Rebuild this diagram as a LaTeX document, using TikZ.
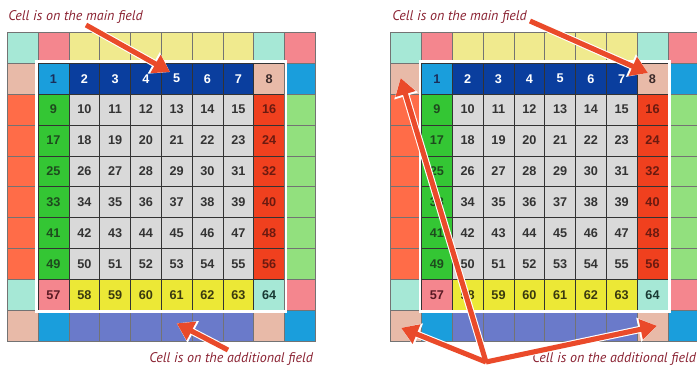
\documentclass[tikz,border=0pt]{standalone}
\usepackage{fontspec}
\setmainfont{PT Sans}
\newfontfamily\numfont{Liberation Sans}
\usetikzlibrary{arrows.meta,calc}

% field colours: in = main field, out = additional field
\definecolor{in00}{HTML}{1A9EDC}
\definecolor{in01}{HTML}{0A3E9E}
\definecolor{in02}{HTML}{E8BAA8}
\definecolor{in10}{HTML}{34C634}
\definecolor{in11}{HTML}{D9D9D9}
\definecolor{in12}{HTML}{F0401E}
\definecolor{in20}{HTML}{F4868E}
\definecolor{in21}{HTML}{ECE836}
\definecolor{in22}{HTML}{A6E8D6}
\definecolor{out00}{HTML}{1A9EDC}
\definecolor{out01}{HTML}{6A7ACA}
\definecolor{out02}{HTML}{E8BAA8}
\definecolor{out10}{HTML}{92E07E}
\definecolor{out11}{HTML}{D9D9D9}
\definecolor{out12}{HTML}{FF6C48}
\definecolor{out20}{HTML}{F4868E}
\definecolor{out21}{HTML}{F0EA8E}
\definecolor{out22}{HTML}{A6E8D6}
\definecolor{tx00}{HTML}{1A2E5A}
\definecolor{tx01}{HTML}{FFFFFF}
\definecolor{tx02}{HTML}{3A2A2A}
\definecolor{tx10}{HTML}{1E4A1E}
\definecolor{tx11}{HTML}{333333}
\definecolor{tx12}{HTML}{6A1A10}
\definecolor{tx20}{HTML}{5A1A24}
\definecolor{tx21}{HTML}{3A3A10}
\definecolor{tx22}{HTML}{1A3A34}
\definecolor{hotred}{HTML}{EA4A2A}
\definecolor{notered}{HTML}{8A2232}

\begin{document}
\begin{tikzpicture}[
  x=0.75pt,
  y=-0.75pt,
  font=\numfont\bfseries\fontsize{9.5}{11}\selectfont,
  cell/.style={minimum width=23.1pt,minimum height=23.175pt,inner sep=0pt,outer sep=0pt,line width=0.6pt},
  outcell/.style={cell,draw=black!55},
  incell/.style={cell,draw=black!80},
  frame/.style={draw=white,line width=2pt},
  note/.style={font=\normalfont\itshape\fontsize{10.5}{12}\selectfont,text=notered,anchor=base west,inner sep=0pt},
  halo/.style={draw=white,line width=5.4pt,-{Triangle[length=14pt,width=17.5pt]}},
  pointer/.style={draw=hotred,line width=3.8pt,-{Triangle[length=12.5pt,width=15pt]}}
]
\useasboundingbox (0,0) rectangle (697,369);
\clip (0,0) rectangle (697,369);

% Both boards: 8x8 main field with a ring of the additional field
\foreach \g/\gx in {L/7.3,R/390.7}{
  \foreach \r in {0,...,9}{
    \foreach \c in {0,...,9}{
      \pgfmathtruncatemacro\ri{mod(\r+7,8)}
      \pgfmathtruncatemacro\ci{mod(\c+7,8)}
      \pgfmathtruncatemacro\rk{\ri==0 ? 0 : (\ri==7 ? 2 : 1)}
      \pgfmathtruncatemacro\ck{\ci==0 ? 0 : (\ci==7 ? 2 : 1)}
      \pgfmathtruncatemacro\inside{(\r>0)*(\r<9)*(\c>0)*(\c<9)}
      \pgfmathtruncatemacro\num{8*\ri+\ci+1}
      \ifnum\inside=1
        \node[incell,fill=in\rk\ck,text=tx\rk\ck] (\g-\r-\c)
          at (\gx+15.4+30.8*\c,47.75+30.9*\r) {\num};
      \else
        \node[outcell,fill=out\rk\ck] (\g-\r-\c)
          at (\gx+15.4+30.8*\c,47.75+30.9*\r) {};
      \fi
    }
  }
  \draw[frame] ($(\g-1-1.north west)+(-1.4,-1.4)$) rectangle ($(\g-8-8.south east)+(1.4,1.4)$);
}

% Notes
\node[note] (mainL) at (8,20) {Cell is on the main field};
\node[note] (addL) at (149,362.5) {Cell is on the additional field};
\node[note] (mainR) at (392,20) {Cell is on the main field};
\node[note] (addR) at (532,362.5) {Cell is on the additional field};

% Arrow ends
\coordinate (mainL-tail) at (86,25);
\coordinate (mainL-tip) at ($(L-1-5)+(-6.7,-6.6)$);
\coordinate (addL-tail) at (228,350);
\coordinate (addL-tip) at ($(L-9-5)+(0,-2.5)$);
\coordinate (mainR-tail) at (530,21);
\coordinate (mainR-tip) at ($(R-1-8)+(-4.5,-5.6)$);
\coordinate (addR-hub) at (486,362);
\coordinate (addR-tipA) at ($(R-1-0)+(-5.4,-0.6)$);
\coordinate (addR-tipB) at ($(R-9-0)+(-5,2)$);
\coordinate (addR-tipC) at ($(R-9-8)+(4.5,0)$);

% Arrows, white halo first
\foreach \a/\b in {mainL-tail/mainL-tip,addL-tail/addL-tip,mainR-tail/mainR-tip,
                   addR-hub/addR-tipA,addR-hub/addR-tipB,addR-hub/addR-tipC}
  \draw[halo] (\a) -- (\b);
\foreach \a/\b in {mainL-tail/mainL-tip,addL-tail/addL-tip,mainR-tail/mainR-tip,
                   addR-hub/addR-tipA,addR-hub/addR-tipB,addR-hub/addR-tipC}
  \draw[pointer] (\a) -- (\b);

\end{tikzpicture}
\end{document}
